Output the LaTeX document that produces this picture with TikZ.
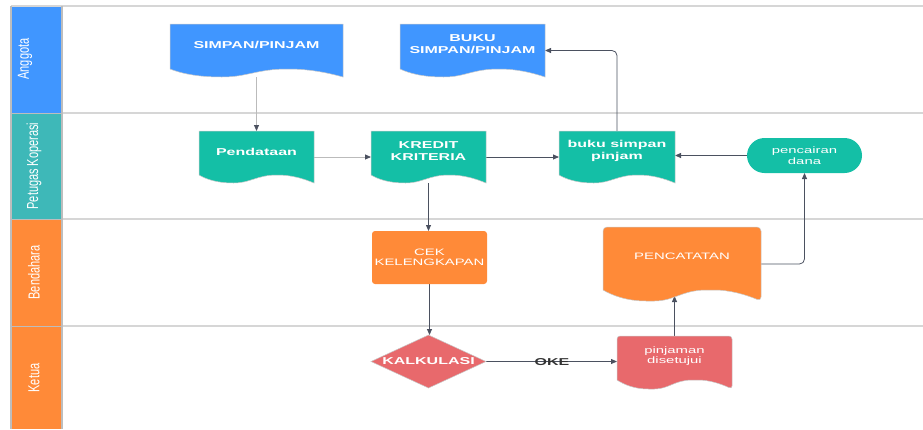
\documentclass[tikz,border=0pt]{standalone}
\usepackage{fontspec}
\setmainfont{Liberation Sans}
\usetikzlibrary{calc,arrows.meta}
\pgfdeclarelayer{back}
\pgfdeclarelayer{bg}
\pgfsetlayers{back,bg,main}
\definecolor{cblue}{HTML}{4096FF}
\definecolor{cteal}{HTML}{14BFA6}
\definecolor{clteal}{HTML}{3EB8B8}
\definecolor{corange}{HTML}{FF8A38}
\definecolor{cred}{HTML}{E8696C}
\definecolor{cline}{HTML}{4B5160}
\definecolor{cgrid}{HTML}{D6D6D6}
\definecolor{clgline}{HTML}{BBBBBB}
\definecolor{cborder}{HTML}{BDBDBD}
\definecolor{cedge}{HTML}{C8C8C8}
\definecolor{coke}{HTML}{333333}

% document shape fill: #1 node, #2 colour, #3 wave depth, #4 extra options
\newcommand\docfill[4]{%
  \path[fill=#2, draw=cedge, line width=0.5pt, #4]
   (#1.south west) ++(0,-#3) -- (#1.north west) -- (#1.north east) -- (#1.south east)
   .. controls ($(#1.south east)!0.1!(#1.south west)+(0,-0.6*#3)$)
           and ($(#1.south east)!0.2!(#1.south west)+(0,-#3)$)
   .. ($(#1.south east)!0.32!(#1.south west)+(0,-#3)$)
   .. controls ($(#1.south east)!0.5!(#1.south west)+(0,-#3)$)
           and ($(#1.south east)!0.55!(#1.south west)$)
   .. ($(#1.south east)!0.70!(#1.south west)$)
   .. controls ($(#1.south east)!0.85!(#1.south west)$)
           and ($(#1.south east)!0.94!(#1.south west)+(0,-0.5*#3)$)
   .. ($(#1.south west)+(0,-#3)$);}

\begin{document}
\begin{tikzpicture}[x=1pt,y=-1pt,
  box/.style={rectangle, inner sep=0pt, outer sep=0pt},
  btxt/.style={text=white, font=\bfseries\fontsize{10}{12}\selectfont, align=center, xscale=1.6, inner sep=0pt},
  rtxt/.style={text=white, font=\fontsize{9.3}{10.5}\selectfont, align=center, xscale=1.6, inner sep=0pt},
  lanetxt/.style={text=white, font=\fontsize{11}{13}\selectfont, rotate=90, inner sep=0pt},
  conn/.style={draw=cline, line width=0.8pt, -{Triangle[length=6pt,width=5pt,color=cline]}},
  lconn/.style={conn, draw=clgline},
  ]
\useasboundingbox (0,0) rectangle (923,429);

% ---------- lanes ----------
\begin{pgfonlayer}{back}
  \fill[cblue]   (11,6)   rectangle (62,113);
  \fill[clteal]  (11,113) rectangle (62,219);
  \fill[corange] (11,219) rectangle (62,326);
  \fill[corange] (11,326) rectangle (62,429);
  \draw[cgrid, line width=1.6pt] (11,6) -- (923,6);
  \draw[cgrid, line width=1.6pt] (62,113) -- (923,113);
  \draw[cgrid, line width=1.6pt] (62,219) -- (923,219);
  \draw[cgrid, line width=1.6pt] (62,326) -- (923,326);
  \draw[cborder, line width=1pt] (11,113) -- (62,113) (11,219) -- (62,219) (11,326) -- (62,326);
  \draw[cborder, line width=1.2pt] (11,6) -- (11,429) (62,6) -- (62,429);
\end{pgfonlayer}

\node[lanetxt] (lA) at (25,59)    {\scalebox{1}[1.45]{Anggota}};
\node[lanetxt] (lP) at (34,166)   {\scalebox{1}[1.45]{Petugas Koperasi}};
\node[lanetxt] (lB) at (34,272.5) {\scalebox{1}[1.45]{Bendahara}};
\node[lanetxt] (lK) at (34,378)   {\scalebox{1}[1.45]{Ketua}};

% ---------- shapes ----------
\node[box, minimum width=173, minimum height=53] (simpan) at (256.5,50.5) {};
\docfill{simpan}{cblue}{8}{}
\node[btxt] (simpanT) at ($(simpan)+(0,-6)$) {SIMPAN/PINJAM};

\node[box, minimum width=145, minimum height=53] (bukuA) at (472.5,50.5) {};
\docfill{bukuA}{cblue}{8}{}
\node[btxt] (bukuAT) at ($(bukuA)+(0,-6.5)$) {BUKU\\SIMPAN/PINJAM};

\node[box, minimum width=115, minimum height=52] (pend) at (256.5,157) {};
\docfill{pend}{cteal}{8}{}
\node[btxt] (pendT) at ($(pend)+(0,-5.5)$) {Pendataan};

\node[box, minimum width=115, minimum height=52] (kredit) at (428.5,157) {};
\docfill{kredit}{cteal}{8}{}
\node[btxt] (kreditT) at ($(kredit)+(0,-5.5)$) {KREDIT\\KRITERIA};

\node[box, minimum width=116, minimum height=52] (buku) at (617,157) {};
\docfill{buku}{cteal}{8}{}
\node[btxt] (bukuT) at ($(buku)+(0,-6)$) {buku simpan\\pinjam};

\node[box, minimum width=115, minimum height=35, fill=cteal, rounded corners=17.5pt] (pencairan) at (804.5,155.5) {};
\node[rtxt] (pencairanT) at (pencairan) {pencairan\\dana};

\node[box, minimum width=115, minimum height=53, fill=corange, rounded corners=3pt] (cek) at (429.5,257.5) {};
\node[rtxt] (cekT) at (cek) {CEK\\KELENGKAPAN};

\node[box, minimum width=158, minimum height=74] (pencat) at (682,264) {};
\docfill{pencat}{corange}{11}{rounded corners=4pt}
\node[rtxt] (pencatT) at ($(pencat)+(0,-8)$) {PENCATATAN};

\node[box, minimum width=115, minimum height=53] (kalk) at (428.5,361.5) {};
\fill[cred, draw=cedge, line width=0.5pt] (kalk.north) -- (kalk.east) -- (kalk.south) -- (kalk.west) -- cycle;
\node[btxt] (kalkT) at (kalk) {KALKULASI};

\node[box, minimum width=115, minimum height=53] (pinj) at (674.5,362.5) {};
\docfill{pinj}{cred}{9}{rounded corners=3pt}
\node[rtxt] (pinjT) at ($(pinj)+(0,-6.5)$) {pinjaman\\disetujui};

% ---------- connectors ----------
\coordinate (pcin) at ($(pinj.north |- pencat.south)+(0,-5)$);
\begin{pgfonlayer}{bg}
  \draw[lconn] (simpan.south) -- (simpan.south |- pend.north);
  \draw[lconn] (pend.east) -- (kredit.west);
  \draw[conn] (kredit.east) -- (buku.west);
  \draw[conn] (pencairan.west) -- (pencairan.west -| buku.east);
  \draw[conn, rounded corners=5pt] (buku.north) |- (bukuA.east);
  \draw[conn] (kredit.south) -- (kredit.south |- cek.north);
  \draw[conn] (cek.south) -- (cek.south |- kalk.north);
  \draw[conn] (kalk.east) -- (kalk.east -| pinj.west);
  \draw[conn] (pinj.north) -- (pcin);
  \draw[conn, rounded corners=5pt] (pencat.east) -| (pencairan.south);
\end{pgfonlayer}
\node[text=coke, font=\bfseries\fontsize{10}{12}\selectfont, xscale=1.6, inner sep=0pt] (oke) at (552,362) {OKE};

\end{tikzpicture}
\end{document}
